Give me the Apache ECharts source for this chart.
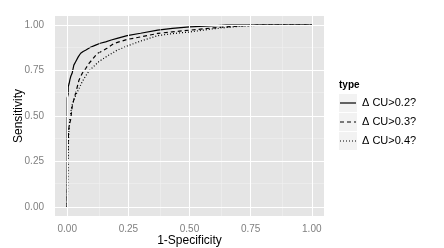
<!DOCTYPE html>
<html><head><meta charset="utf-8">
<script src="https://cdn.jsdelivr.net/npm/echarts@6/dist/echarts.min.js"></script>
<style>html,body{margin:0;padding:0;background:#fff}#c{width:444px;height:248px}</style>
</head><body><div id="c"></div>
<script>
var seriesNames = ['\u0394 CU>0.2?', '\u0394 CU>0.3?', '\u0394 CU>0.4?'];
var tickValues = [0, 0.25, 0.5, 0.75, 1];
var minorValues = [0.125, 0.375, 0.625, 0.875];

var fpr02 = [0,0,0.004,0.004,0.008,0.011,0.015,0.02,0.024,0.027,0.035,0.045,0.055,0.065,0.075,0.095,0.116,0.135,0.157,0.18,0.204,0.245,0.30,0.37,0.43,0.5,0.58,0.65,1];
var sens02 = [0,0.60,0.62,0.66,0.68,0.70,0.72,0.735,0.76,0.78,0.80,0.825,0.845,0.855,0.862,0.878,0.89,0.90,0.908,0.918,0.927,0.942,0.955,0.972,0.982,0.99,0.995,1.0,1];

var fpr03 = [0,0.002,0.005,0.008,0.014,0.02,0.027,0.034,0.041,0.048,0.061,0.075,0.089,0.105,0.123,0.15,0.17,0.191,0.245,0.30,0.37,0.43,0.5,0.6,0.7,0.78,1];
var sens03 = [0,0.3,0.4,0.45,0.48,0.55,0.59,0.624,0.66,0.697,0.734,0.76,0.789,0.815,0.844,0.862,0.88,0.899,0.921,0.935,0.954,0.963,0.972,0.985,0.995,1,1];

var fpr04 = [0,0.003,0.004,0.006,0.009,0.012,0.02,0.027,0.035,0.048,0.06,0.075,0.088,0.102,0.13,0.17,0.204,0.245,0.30,0.37,0.43,0.5,0.6,0.7,0.8,1];
var sens04 = [0,0.2,0.3,0.4,0.46,0.50,0.56,0.587,0.615,0.65,0.685,0.72,0.745,0.765,0.80,0.835,0.862,0.885,0.912,0.942,0.953,0.962,0.98,0.993,1,1];

function zip(a, b) { return a.map(function (v, i) { return [v, b[i]]; }); }

var font = 'Liberation Sans, Arial, sans-serif';
var gridLines = [];
minorValues.forEach(function (v) {
  gridLines.push({xAxis: v, lineStyle: {color: '#F2F2F2', width: 0.5, type: 'solid'}});
  gridLines.push({yAxis: v, lineStyle: {color: '#F2F2F2', width: 0.5, type: 'solid'}});
});
tickValues.forEach(function (v) {
  gridLines.push({xAxis: v, lineStyle: {color: '#fff', width: 1, type: 'solid'}});
  gridLines.push({yAxis: v, lineStyle: {color: '#fff', width: 1, type: 'solid'}});
});

function axisCfg(name, gap, margin) {
  return {
    type: 'value', min: -0.05, max: 1.05,
    name: name, nameLocation: 'middle', nameGap: gap, nameMoveOverlap: false,
    nameTextStyle: {fontFamily: font, fontSize: 12, color: '#000'},
    axisLine: {show: false},
    splitLine: {show: false},
    axisTick: {show: true, customValues: tickValues, length: 3, lineStyle: {color: '#7F7F7F'}},
    axisLabel: {customValues: tickValues, margin: margin, fontFamily: font, fontSize: 10, color: '#7F7F7F',
      formatter: function (v) { return v.toFixed(2); }}
  };
}

var lineTypes = ['solid', [4, 3], [1, 2]];
var keyDash = [null, [4, 3], [1, 2]];
var datas = [zip(fpr02, sens02), zip(fpr03, sens03), zip(fpr04, sens04)];

var series = [{
  type: 'line', data: [[0, 0]], symbol: 'none', z: 1, silent: true,
  lineStyle: {opacity: 0},
  markLine: {silent: true, symbol: 'none', label: {show: false}, animation: false,
    lineStyle: {type: 'solid'}, data: gridLines}
}];
seriesNames.forEach(function (n, i) {
  series.push({
    name: n, type: 'line', data: datas[i], symbol: 'none', z: 3,
    lineStyle: {color: '#000', width: 1.2, type: lineTypes[i]},
    itemStyle: {color: '#000'}
  });
});

var graphics = [
  {type: 'text', left: 339, top: 80, style: {text: 'type', font: 'bold 10px ' + font, fill: '#000'}}
];
[0, 1, 2].forEach(function (i) {
  var y0 = 94 + i * 19;
  graphics.push({type: 'rect', shape: {x: 339, y: y0, width: 18, height: 18}, style: {fill: '#F2F2F2'}, z: -1});
  graphics.push({type: 'line', shape: {x1: 340, y1: y0 + 9, x2: 356, y2: y0 + 9},
    style: {stroke: '#000', lineWidth: 1.2, lineDash: keyDash[i]}});
});

var chart = echarts.init(document.getElementById('c'), null, {renderer: 'canvas'});
chart.setOption({
  animation: false,
  backgroundColor: '#fff',
  grid: {left: 55, top: 16, width: 269, height: 200, show: true, backgroundColor: '#E5E5E5', borderWidth: 0,
    outerBoundsMode: 'none', containLabel: false},
  xAxis: axisCfg('1-Specificity', 19, 8),
  yAxis: axisCfg('Sensitivity', 30, 11),
  legend: {
    orient: 'vertical', left: 340, top: 97, padding: 0,
    itemWidth: 16, itemHeight: 14, itemGap: 8,
    data: seriesNames,
    itemStyle: {opacity: 0},
    lineStyle: {opacity: 0},
    textStyle: {fontFamily: font, fontSize: 11, color: '#000'},
    selectedMode: false
  },
  graphic: graphics,
  series: series
});
</script></body></html>
